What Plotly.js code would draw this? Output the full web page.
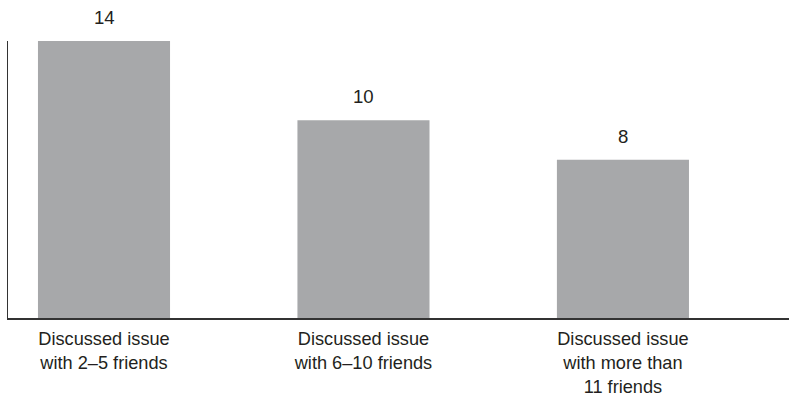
<!DOCTYPE html>
<html>
<head>
<meta charset="utf-8">
<script src="https://cdn.plot.ly/plotly-3.0.1.min.js"></script>
<style>
  html, body { margin: 0; padding: 0; background: #fff; }
  #chart { width: 789px; height: 396px; }
</style>
</head>
<body>
<div id="chart"></div>
<script>
// Number of friends the issue was discussed with
const categories = [
  "Discussed issue<br>with 2–5 friends",
  "Discussed issue<br>with 6–10 friends",
  "Discussed issue<br>with more than<br>11 friends"
];
const values = [14, 10, 8];
const valueLabels = ["14", "10", "8"];

const positions = categories.map((_, i) => i);
const baseFont = { family: "Liberation Sans, Arial, sans-serif", color: "#231f20" };

const trace = {
  type: "bar",
  x: positions,
  y: values,
  width: 0.509,
  marker: { color: "#a7a8aa", line: { width: 0 } },
  hoverinfo: "skip"
};

const annotations = positions.map((p, i) => ({
  x: p,
  y: values[i],
  xref: "x",
  yref: "y",
  text: valueLabels[i],
  showarrow: false,
  yanchor: "bottom",
  yshift: 11,
  font: Object.assign({ size: 18.6 }, baseFont)
}));

const layout = {
  width: 789,
  height: 396,
  margin: { l: 8, r: 0, t: 41, b: 78 },
  paper_bgcolor: "#ffffff",
  plot_bgcolor: "#ffffff",
  showlegend: false,
  xaxis: {
    range: [-0.370, 2.640],
    tickvals: positions,
    ticktext: categories,
    showline: true,
    linecolor: "#333333",
    linewidth: 1.5,
    showgrid: false,
    zeroline: false,
    ticks: "",
    ticklabelstandoff: 4,
    tickfont: Object.assign({ size: 18.2 }, baseFont),
    fixedrange: true
  },
  yaxis: {
    range: [0, 14],
    showline: true,
    linecolor: "#333333",
    linewidth: 1.5,
    showgrid: false,
    zeroline: false,
    showticklabels: false,
    ticks: "",
    fixedrange: true
  },
  annotations: annotations
};

Plotly.newPlot("chart", [trace], layout, { displayModeBar: false, staticPlot: true });
</script>
</body>
</html>
